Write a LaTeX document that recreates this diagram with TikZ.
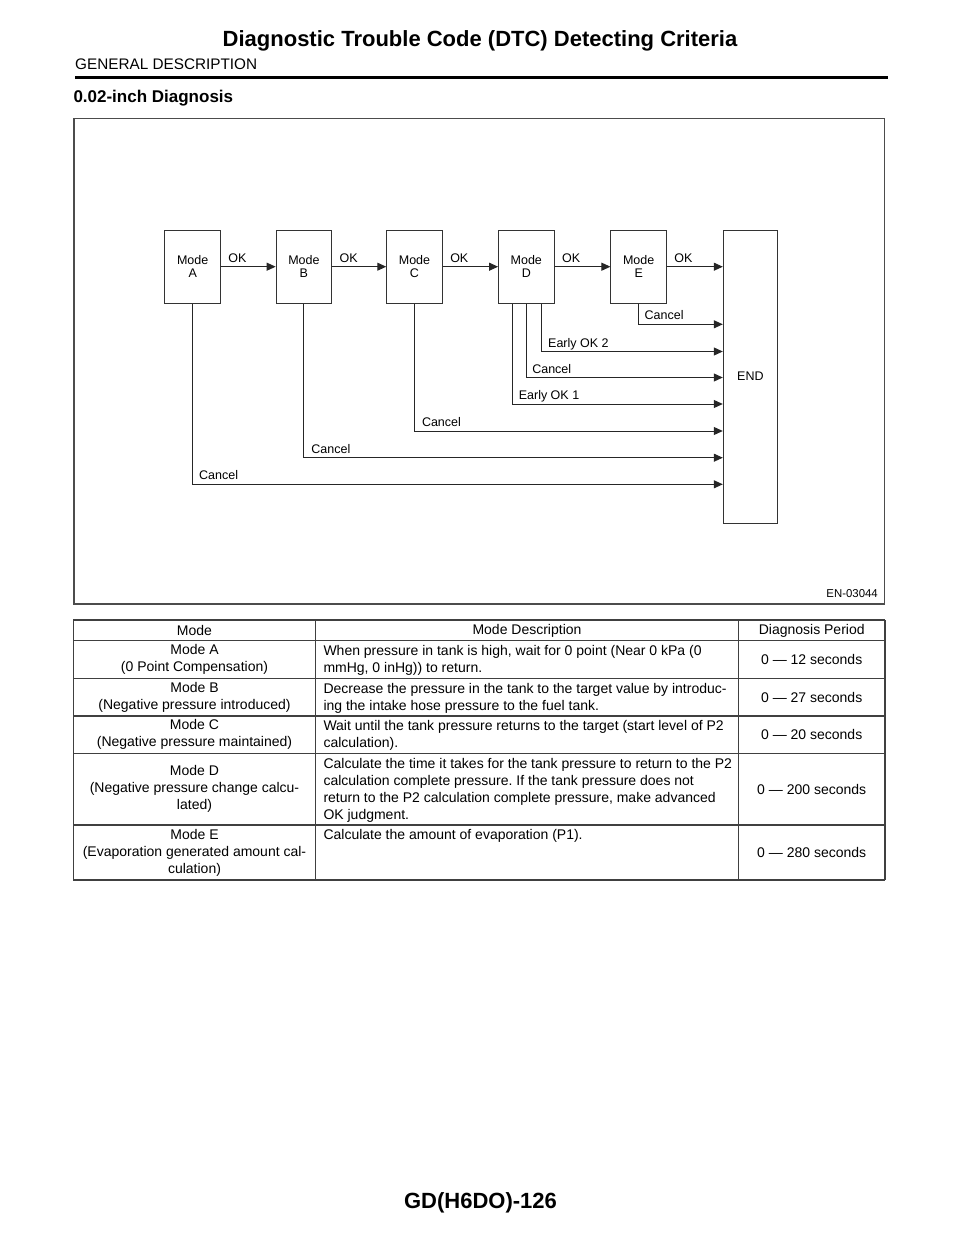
\documentclass[tikz,border=0pt]{standalone}
\usepackage{fontspec}
\setmainfont{Liberation Sans}
\usetikzlibrary{arrows.meta, calc, positioning}
\frenchspacing
\tikzset{
	smalltext/.style={font=\fontsize{12.5}{13.4}\selectfont}
}
\tikzset{
	tabletext/.style={font=\fontsize{14}{17}\selectfont, inner sep=0pt}
}

\begin{document}
\begin{tikzpicture}[x=1pt, y=-1pt]

              \tikzset{
                modenode/.style={
                    shape=rectangle,
                    draw=black!80,
                    line width=1pt,
                    fill=white,
                    minimum width=55.5pt,
                    minimum height=73.3pt,
                    inner sep=0pt,
                    align=center,
                    smalltext
                  },
                flow/.style={
                    draw=black!85,
                    line width=1pt,
                    -{Triangle[length=9pt,width=8pt]}
                  },
                flowlabel/.style={smalltext, inner sep=0pt, anchor=base west},
                tableline/.style={draw=black!75, line width=1.2pt}
              }

              \useasboundingbox (0,0) rectangle (960,1242);

              \node[anchor=base, font=\fontsize{22}{24}\selectfont\bfseries] (title) at (480,46.7) {Diagnostic Trouble Code (DTC) Detecting Criteria};
              \node[anchor=base west, inner sep=0pt, font=\fontsize{15.3}{17}\selectfont] (section) at (75,69.3) {GENERAL DESCRIPTION};
              \draw[line width=3.3pt] (75,77.7) -- (888,77.7);
              \node[anchor=base west, inner sep=0pt, font=\fontsize{17}{19}\selectfont\bfseries] (subtitle) at (73.3,102.7) {0.02-inch Diagnosis};

              \draw[draw=black!70, line width=1.3pt] (74,118.3) rectangle (884.3,604);
              \node[anchor=base east, inner sep=0pt, font=\fontsize{11.4}{13}\selectfont] (figid) at (878,597.3) {EN-03044};

              \node[modenode] (mA) at (192.7,266.7) {\raisebox{-2.5pt}{\shortstack{Mode\\[1pt]A}}};
              \node[modenode] (mB) at (303.9,266.7) {\raisebox{-2.5pt}{\shortstack{Mode\\[1pt]B}}};
              \node[modenode] (mC) at (414.5,266.7) {\raisebox{-2.5pt}{\shortstack{Mode\\[1pt]C}}};
              \node[modenode] (mD) at (526.3,266.7) {\raisebox{-2.5pt}{\shortstack{Mode\\[1pt]D}}};
              \node[modenode] (mE) at (638.7,266.7) {\raisebox{-2.5pt}{\shortstack{Mode\\[1pt]E}}};
              \node[modenode, minimum width=54.2pt, minimum height=293pt] (mEnd) at (750.4,376.5) {END};

              \draw[flow] (mA) -- node[flowlabel, pos=0, xshift=7pt, yshift=4.5pt] {OK} (mB);
              \draw[flow] (mB) -- node[flowlabel, pos=0, xshift=7pt, yshift=4.5pt] {OK} (mC);
              \draw[flow] (mC) -- node[flowlabel, pos=0, xshift=7pt, yshift=4.5pt] {OK} (mD);
              \draw[flow] (mD) -- node[flowlabel, pos=0, xshift=7pt, yshift=4.5pt] {OK} (mE);
              \draw[flow] (mE) -- node[flowlabel, pos=0, xshift=7pt, yshift=4.5pt] {OK} (mEnd.west |- mE);

              \draw[flow] (mE.south) |- node[flowlabel, pos=0.5, xshift=5.5pt, yshift=4.5pt] {Cancel} (mEnd.west |- 0,324.3);
              \draw[flow] ([xshift=15.4pt]mD.south) |- node[flowlabel, pos=0.5, xshift=6pt, yshift=4.5pt] {Early OK 2} (mEnd.west |- 0,351.5);
              \draw[flow] (mD.south) |- node[flowlabel, pos=0.5, xshift=5.5pt, yshift=4.5pt] {Cancel} (mEnd.west |- 0,377.5);
              \draw[flow] ([xshift=-14pt]mD.south) |- node[flowlabel, pos=0.5, xshift=6pt, yshift=4.5pt] {Early OK 1} (mEnd.west |- 0,404);
              \draw[flow] (mC.south) |- node[flowlabel, pos=0.5, xshift=7pt, yshift=4.5pt] {Cancel} (mEnd.west |- 0,431);
              \draw[flow] (mB.south) |- node[flowlabel, pos=0.5, xshift=7pt, yshift=4.5pt] {Cancel} (mEnd.west |- 0,457.7);
              \draw[flow] (mA.south) |- node[flowlabel, pos=0.5, xshift=6pt, yshift=4.5pt] {Cancel} (mEnd.west |- 0,484.3);

              \foreach \y in {620,640.7,678.3,716,753.3,825,880}
                \draw[tableline] (73.3,\y) -- (885,\y);
              \foreach \x in {73.3,315.7,738.3,885}
                \draw[tableline] (\x,620) -- (\x,880);

              \node[tabletext] (hMode) at (194.5,630.4) {Mode};
              \node[tabletext] (hDesc) at (527,630.4) {Mode Description};
              \node[tabletext] (hPeriod) at (811.7,630.4) {Diagnosis Period};

              \node[tabletext, align=center] (modeA) at (194.5,659.5) {Mode A\\(0 Point Compensation)};
              \node[tabletext, align=center] (modeB) at (194.5,697.2) {Mode B\\(Negative pressure introduced)};
              \node[tabletext, align=center] (modeC) at (194.5,734.7) {Mode C\\(Negative pressure maintained)};
              \node[tabletext, align=center] (modeD) at (194.5,789.2) {Mode D\\(Negative pressure change calcu-\\lated)};
              \node[tabletext, align=center] (modeE) at (194.5,852.5) {Mode E\\(Evaporation generated amount cal-\\culation)};

              \node[tabletext, align=left, anchor=north west] (descA) at (323.3,645.2) {When pressure in tank is high, wait for 0 point (Near 0 kPa (0\\mmHg, 0 inHg)) to return.};
              \node[tabletext, align=left, anchor=north west] (descB) at (323.3,682.8) {Decrease the pressure in the tank to the target value by introduc-\\ing the intake hose pressure to the fuel tank.};
              \node[tabletext, align=left, anchor=north west] (descC) at (323.3,720.5) {Wait until the tank pressure returns to the target (start level of P2\\calculation).};
              \node[tabletext, align=left, anchor=north west] (descD) at (323.3,757.8) {Calculate the time it takes for the tank pressure to return to the P2\\calculation complete pressure. If the tank pressure does not\\return to the P2 calculation complete pressure, make advanced\\OK judgment.};
              \node[tabletext, align=left, anchor=north west] (descE) at (323.3,829.5) {Calculate the amount of evaporation (P1).};

              \node[tabletext] (perA) at (811.7,659.5) {0 --- 12 seconds};
              \node[tabletext] (perB) at (811.7,697.2) {0 --- 27 seconds};
              \node[tabletext] (perC) at (811.7,734.7) {0 --- 20 seconds};
              \node[tabletext] (perD) at (811.7,789.2) {0 --- 200 seconds};
              \node[tabletext] (perE) at (811.7,852.5) {0 --- 280 seconds};

              \node[anchor=base, inner sep=0pt, font=\fontsize{22}{24}\selectfont\bfseries] (pageno) at (480.5,1208) {GD(H6DO)-126};
            \end{tikzpicture}
\end{document}
